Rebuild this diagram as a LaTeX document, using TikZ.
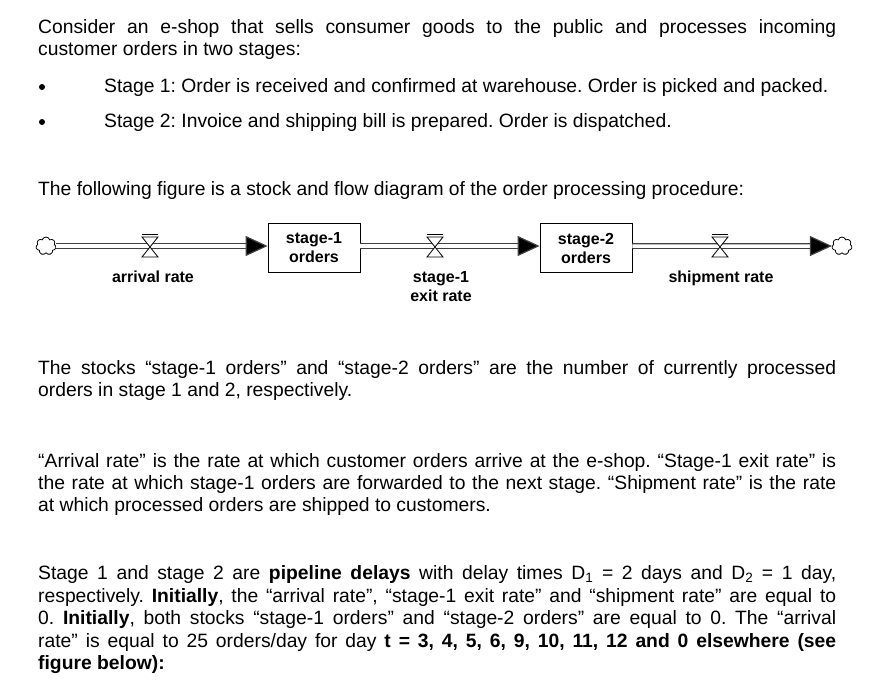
\documentclass[tikz,border=0pt]{standalone}
\usepackage{fontspec}
\setmainfont{Liberation Sans}
\usetikzlibrary{shapes.symbols,arrows.meta}
\begin{document}
\frenchspacing
\begin{tikzpicture}[x=1pt,y=-1pt,
  txt/.style={anchor=base west,inner sep=0pt,font=\frenchspacing\fontsize{19.3}{22.6}\selectfont},
  stock/.style={draw,line width=0.8pt,minimum width=92pt,minimum height=49pt,font=\bfseries\fontsize{16}{19}\selectfont,align=center},
  lbl/.style={font=\bfseries\fontsize{16}{19}\selectfont,align=center,inner sep=0pt},
  pipe/.style={double=white,double distance=3.5pt,line width=1.2pt,draw=black!75,-{Triangle[length=22pt,width=20pt,fill=black]}},
  cl/.style={cloud,cloud puffs=7,draw,line width=0.8pt,minimum width=20pt,minimum height=18pt,inner sep=0pt},
  valve/.style={draw,line width=0.8pt,fill=white},
  dot/.style={circle,fill=black,inner sep=0pt,minimum size=6pt}]
\useasboundingbox (0,0) rectangle (879,688);
\fill[white] (0,0) rectangle (879,688);
\newcommand\jl[3]{\node[txt] (#1) at (38,#2) {\makebox[798pt][s]{#3}};}
\newcommand\pl[3]{\node[txt] (#1) at (38,#2) {#3};}
\jl{p1a}{34}{Consider an e-shop that sells consumer goods to the public and processes incoming}
\pl{p1b}{56}{customer orders in two stages:}
\node[dot] (b1) at (42,87) {};
\node[txt] (s1) at (104,92) {Stage 1: Order is received and confirmed at warehouse. Order is picked and packed.};
\node[dot] (b2) at (42,122) {};
\node[txt] (s2) at (104,127) {Stage 2: Invoice and shipping bill is prepared. Order is dispatched.};
\pl{p2}{195}{The following figure is a stock and flow diagram of the order processing procedure:}
% diagram
\node[cl] (c1) at (46,246) {};
\node[stock] (k1) at (314,248) {stage-1\\orders};
\node[stock] (k2) at (586,248) {stage-2\\orders};
\node[cl] (c2) at (842,246) {};
\draw[pipe] (c1.east) -- (k1.west |- c1.east);
\draw[pipe] (k1.east |- c1.east) -- (k2.west |- c1.east);
\draw[pipe] (k2.east |- c1.east) -- (c2.west);
\foreach \n/\x in {v1/150,v2/435,v3/720}{
  \coordinate (\n) at (\x,246);
  \draw[valve] (\x-8,237) -- (\x+8,237) -- (\x-8,257) -- (\x+8,257) -- cycle;
  \draw[line width=0.8pt] (\x-8,234) -- (\x+8,234);
}
\node[lbl,anchor=north] (l1) at (153,271) {arrival rate};
\node[lbl,anchor=north] (l2) at (441,271) {stage-1\\exit rate};
\node[lbl,anchor=north] (l3) at (721,271) {shipment rate};
% text
\jl{p3a}{374}{The stocks “stage-1 orders” and “stage-2 orders” are the number of currently processed}
\pl{p3b}{396}{orders in stage 1 and 2, respectively.}
\jl{p4a}{467}{“Arrival rate” is the rate at which customer orders arrive at the e-shop. “Stage-1 exit rate” is}
\jl{p4b}{489}{the rate at which stage-1 orders are forwarded to the next stage. “Shipment rate” is the rate}
\pl{p4c}{511}{at which processed orders are shipped to customers.}
\jl{p5a}{579}{Stage 1 and stage 2 are \textbf{pipeline delays} with delay times D\textsubscript{1} = 2 days and D\textsubscript{2} = 1 day,}
\jl{p5b}{602}{respectively. \textbf{Initially}, the “arrival rate”, “stage-1 exit rate” and “shipment rate” are equal to}
\jl{p5c}{624}{0. \textbf{Initially}, both stocks “stage-1 orders” and “stage-2 orders” are equal to 0. The “arrival}
\jl{p5d}{647}{rate” is equal to 25 orders/day for day \textbf{t = 3, 4, 5, 6, 9, 10, 11, 12 and 0 elsewhere (see}}
\pl{p5e}{669}{\textbf{figure below):}}
\end{tikzpicture}
\end{document}
